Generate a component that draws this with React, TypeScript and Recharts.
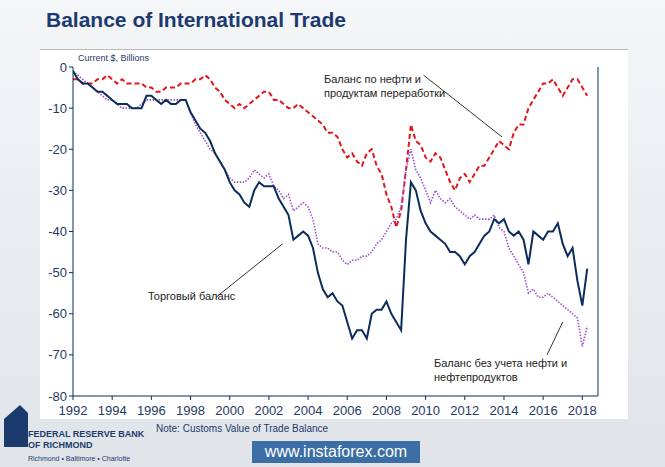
import React from "react";
import { LineChart, Line, XAxis, YAxis, ReferenceLine } from "recharts";

const startYear = 1992;
const tradeBalance = [
  -1, -3, -4, -4, -5, -6, -6, -7, -8, -9, -9, -9, -10, -10, -10, -7, -7, -8, -9, -8,
  -9, -9, -8, -8, -11, -13, -15, -16, -18, -21, -23, -25, -28, -30, -31, -33,
  -34, -30, -28, -29, -29, -29, -32, -34, -36, -42, -41, -40, -41, -44, -50, -54,
  -56, -55, -57, -58, -62, -66, -64, -64, -66, -60, -59, -59, -57, -60, -62, -64,
  -42, -28, -30, -35, -38, -40, -41, -42, -43, -45, -45, -46, -48, -46, -45, -43,
  -41, -40, -37, -38, -37, -40, -41, -40, -42, -48, -40, -41, -42, -40, -40, -38,
  -43, -46, -44, -52, -58, -49,
];
const oilBalance = [
  -3, -3, -4, -4, -4, -3, -3, -2, -3, -4, -3, -4, -4, -4, -4, -5, -5, -6, -6, -5,
  -5, -5, -4, -4, -4, -3, -3, -2, -3, -5, -6, -8, -9, -10, -9, -10, -9, -8, -7, -6,
  -6, -8, -8, -9, -10, -10, -9, -10, -11, -12, -13, -14, -16, -16, -17, -20,
  -22, -21, -23, -24, -21, -20, -24, -26, -31, -34, -39, -35, -25, -14, -18, -19,
  -22, -23, -21, -22, -25, -28, -30, -27, -26, -28, -26, -24, -24, -22, -20, -18,
  -19, -20, -16, -14, -14, -10, -8, -6, -4, -4, -3, -5, -7, -5, -3, -3, -5, -7,
];
const nonOilBalance = [
  -1, -2, -3, -4, -5, -6, -7, -8, -8, -9, -10, -10, -10, -10, -9, -8, -8, -8, -8, -8,
  -8, -8, -8, -8, -11, -14, -16, -18, -20, -21, -23, -25, -27, -28, -28, -28,
  -27, -25, -26, -27, -26, -29, -30, -32, -31, -35, -34, -33, -34, -37, -43, -44,
  -44, -45, -45, -47, -48, -47, -47, -46, -46, -45, -43, -42, -40, -38, -37, -34,
  -25, -20, -25, -27, -30, -33, -30, -32, -33, -32, -34, -35, -36, -37, -36, -37,
  -37, -37, -36, -39, -40, -44, -46, -48, -50, -55, -54, -56, -56, -55, -56, -57,
  -58, -59, -60, -61, -68, -63,
];
const yearTicks = [1992, 1994, 1996, 1998, 2000, 2002, 2004, 2006, 2008, 2010, 2012, 2014, 2016, 2018];
const valueTicks = [0, -10, -20, -30, -40, -50, -60, -70, -80];

const data = tradeBalance.map((v, i) => ({
  t: startYear + i / 4,
  total: v,
  oil: oilBalance[i],
  nonOil: nonOilBalance[i],
}));

const navy = "#0b2d5b";
const tick = { fontSize: 13, fill: "#1f3a64", fontFamily: "Liberation Sans" };
const note: React.CSSProperties = { position: "absolute", fontFamily: "Liberation Sans", fontSize: 11, color: "#222" };

export default function App() {
  document.body.style.margin = "0";
  return (
    <div style={{ position: "relative", width: 665, height: 467, background: "linear-gradient(#f4f6f8, #e0e4e8)", fontFamily: "Liberation Sans" }}>
      <div style={{ position: "absolute", left: 46, top: 8, fontSize: 21, fontWeight: "bold", color: "#1d3a6e" }}>
        Balance of International Trade
      </div>
      <div style={{ position: "absolute", left: 40, top: 49, width: 588, height: 369, background: "#fff", borderTop: "1px solid #bbb" }} />
      <div style={{ position: "absolute", left: 78, top: 53, fontSize: 9, color: "#1f3a64" }}>Current $, Billions</div>
      <div style={{ position: "absolute", top: 0, left: 0 }}>
        <LineChart width={665} height={467} data={data} margin={{ top: 67, right: 0, bottom: 0, left: 0 }}>
          <XAxis dataKey="t" type="number" domain={[1992, 2018.8]} ticks={yearTicks} tick={tick} height={71}
            stroke={navy} tickSize={4} tickMargin={6} allowDataOverflow />
          <YAxis yAxisId="l" domain={[-80, 0]} ticks={valueTicks} tick={tick} width={73} stroke={navy} tickSize={4} />
          <YAxis yAxisId="r" orientation="right" domain={[-80, 0]} ticks={valueTicks} tick={tick} width={67} stroke={navy} tickSize={4} />
          <Line yAxisId="l" dataKey="oil" stroke="#e0161c" strokeWidth={2} strokeDasharray="5 3" dot={false} isAnimationActive={false} />
          <Line yAxisId="l" dataKey="nonOil" stroke="#9a4fd0" strokeWidth={1.6} strokeDasharray="1.5 1.5" dot={false} isAnimationActive={false} />
          <Line yAxisId="l" dataKey="total" stroke={navy} strokeWidth={2} dot={false} isAnimationActive={false} />
          <ReferenceLine yAxisId="l" segment={[{ x: 1999.3, y: -56 }, { x: 2002.7, y: -43 }]} stroke="#333" />
          <ReferenceLine yAxisId="l" segment={[{ x: 2009.9, y: -2 }, { x: 2013.9, y: -17 }]} stroke="#333" />
          <ReferenceLine yAxisId="l" segment={[{ x: 2016.2, y: -70 }, { x: 2017, y: -62 }]} stroke="#333" />
        </LineChart>
      </div>
      <div style={{ ...note, left: 148, top: 290 }}>Торговый баланс</div>
      <div style={{ ...note, left: 324, top: 72, lineHeight: "14px" }}>Баланс по нефти и<br />продуктам переработки</div>
      <div style={{ ...note, left: 434, top: 356, lineHeight: "14px" }}>Баланс без учета нефти и<br />нефтепродуктов</div>
      <svg style={{ position: "absolute", left: 4, top: 405 }} width="26" height="42">
        <polygon points="0,42 0,14 16,0 24,8 24,42" fill="#1d3a6e" />
      </svg>
      <div style={{ position: "absolute", left: 28, top: 429, fontSize: 9, fontWeight: "bold", color: "#1d3a6e", lineHeight: "11px" }}>
        FEDERAL RESERVE BANK<br />OF RICHMOND
      </div>
      <div style={{ position: "absolute", left: 28, top: 455, fontSize: 7, color: "#1d3a6e" }}>Richmond • Baltimore • Charlotte</div>
      <div style={{ position: "absolute", left: 156, top: 423, fontSize: 10, color: "#1d3a6e" }}>Note: Customs Value of Trade Balance</div>
      <div style={{ position: "absolute", left: 252, top: 441, width: 168, height: 22, background: "#3a6ea5", color: "#fff", fontSize: 16, textAlign: "center", lineHeight: "22px" }}>
        www.instaforex.com
      </div>
    </div>
  );
}
